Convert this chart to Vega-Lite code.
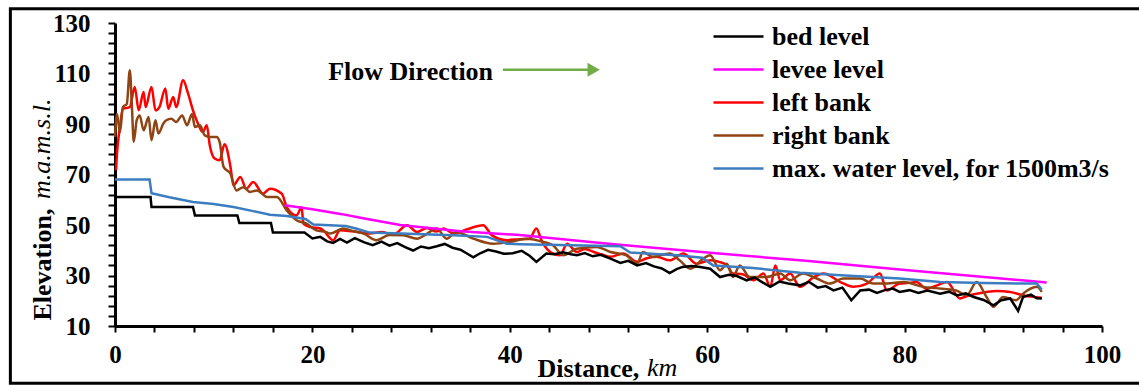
{
  "$schema": "https://vega.github.io/schema/vega-lite/v6.json",
  "width": 987,
  "height": 303,
  "autosize": {"type": "none"},
  "padding": {"left": 115, "top": 23, "right": 37, "bottom": 59},
  "background": "white",
  "config": {
    "view": {"stroke": null},
    "font": "Liberation Serif",
    "axis": {"labelOverlap": false, "labelFlush": false, "labelBound": false, "grid": false}
  },
  "datasets": {
    "profile": [
      {"s":"bed level","x":0,"y":61.1},{"s":"bed level","x":3.6,"y":61.1},{"s":"bed level","x":3.7,"y":57.1},{"s":"bed level","x":7.9,"y":57.1},{"s":"bed level","x":8.1,"y":53.8},{"s":"bed level","x":12.4,"y":53.8},{"s":"bed level","x":12.6,"y":50.8},{"s":"bed level","x":15.8,"y":50.8},{"s":"bed level","x":16,"y":47},{"s":"bed level","x":19.2,"y":47},{"s":"bed level","x":20,"y":44.7},{"s":"bed level","x":20.8,"y":45.3},{"s":"bed level","x":21.5,"y":43.5},{"s":"bed level","x":22.1,"y":42.9},{"s":"bed level","x":22.8,"y":44.5},{"s":"bed level","x":23.5,"y":43},{"s":"bed level","x":24.3,"y":44.8},{"s":"bed level","x":25.2,"y":43.2},{"s":"bed level","x":26.1,"y":42},{"s":"bed level","x":27,"y":43.4},{"s":"bed level","x":27.8,"y":41.8},{"s":"bed level","x":28.6,"y":42.8},{"s":"bed level","x":29.4,"y":41.2},{"s":"bed level","x":30.2,"y":39.9},{"s":"bed level","x":31,"y":41.5},{"s":"bed level","x":31.8,"y":40.8},{"s":"bed level","x":32.6,"y":41.6},{"s":"bed level","x":33.4,"y":42.5},{"s":"bed level","x":34.2,"y":41},{"s":"bed level","x":35,"y":40.2},{"s":"bed level","x":35.7,"y":38.6},{"s":"bed level","x":36.3,"y":37.2},{"s":"bed level","x":37,"y":38.8},{"s":"bed level","x":37.8,"y":40.2},{"s":"bed level","x":38.6,"y":39.5},{"s":"bed level","x":39.4,"y":38.6},{"s":"bed level","x":40.3,"y":38.8},{"s":"bed level","x":41.2,"y":39.8},{"s":"bed level","x":42,"y":37.8},{"s":"bed level","x":42.7,"y":35.4},{"s":"bed level","x":43.7,"y":38.7},{"s":"bed level","x":44.5,"y":38.4},{"s":"bed level","x":45.4,"y":39.2},{"s":"bed level","x":46.2,"y":38.4},{"s":"bed level","x":46.8,"y":38},{"s":"bed level","x":47.6,"y":38.9},{"s":"bed level","x":48.4,"y":37.6},{"s":"bed level","x":49.2,"y":38.2},{"s":"bed level","x":50.2,"y":36.7},{"s":"bed level","x":51.2,"y":35},{"s":"bed level","x":52,"y":35.8},{"s":"bed level","x":52.9,"y":34},{"s":"bed level","x":53.8,"y":34.9},{"s":"bed level","x":54.6,"y":33.6},{"s":"bed level","x":55.4,"y":32.8},{"s":"bed level","x":56.2,"y":31},{"s":"bed level","x":56.9,"y":32.5},{"s":"bed level","x":57.5,"y":33.4},{"s":"bed level","x":58.4,"y":33.8},{"s":"bed level","x":59.3,"y":33.4},{"s":"bed level","x":60.3,"y":32.7},{"s":"bed level","x":61.3,"y":29.4},{"s":"bed level","x":62.2,"y":30.3},{"s":"bed level","x":63,"y":29.8},{"s":"bed level","x":64,"y":28.1},{"s":"bed level","x":64.8,"y":29.2},{"s":"bed level","x":65.6,"y":27.3},{"s":"bed level","x":66.4,"y":25.5},{"s":"bed level","x":67.3,"y":27.6},{"s":"bed level","x":68.2,"y":26.8},{"s":"bed level","x":69.4,"y":26.1},{"s":"bed level","x":70.3,"y":27.5},{"s":"bed level","x":71.2,"y":25.2},{"s":"bed level","x":72,"y":25.8},{"s":"bed level","x":72.8,"y":24.1},{"s":"bed level","x":73.7,"y":25.2},{"s":"bed level","x":74.6,"y":20.2},{"s":"bed level","x":75.5,"y":24.1},{"s":"bed level","x":76.4,"y":24.4},{"s":"bed level","x":77.2,"y":23.1},{"s":"bed level","x":78,"y":24.2},{"s":"bed level","x":78.8,"y":24.8},{"s":"bed level","x":79.5,"y":23.5},{"s":"bed level","x":80.5,"y":24.2},{"s":"bed level","x":81.4,"y":23.1},{"s":"bed level","x":82.3,"y":24},{"s":"bed level","x":83.6,"y":22.8},{"s":"bed level","x":84.5,"y":23.6},{"s":"bed level","x":85.3,"y":22.1},{"s":"bed level","x":86.2,"y":22.9},{"s":"bed level","x":87,"y":21.5},{"s":"bed level","x":88,"y":20.3},{"s":"bed level","x":89,"y":18.2},{"s":"bed level","x":89.8,"y":20.2},{"s":"bed level","x":90.7,"y":20.9},{"s":"bed level","x":91.5,"y":16},{"s":"bed level","x":92,"y":21.5},{"s":"bed level","x":92.8,"y":22.4},{"s":"bed level","x":93.4,"y":21},{"s":"bed level","x":93.9,"y":20.9},
      {"s":"levee level","x":17.2,"y":57.8},{"s":"levee level","x":20,"y":56.2},{"s":"levee level","x":23,"y":54.3},{"s":"levee level","x":25,"y":52.8},{"s":"levee level","x":28.9,"y":50},{"s":"levee level","x":35,"y":47.5},{"s":"levee level","x":41,"y":46},{"s":"levee level","x":50,"y":42.6},{"s":"levee level","x":60.3,"y":39},{"s":"levee level","x":70,"y":35.8},{"s":"levee level","x":79.5,"y":32.4},{"s":"levee level","x":94.4,"y":27.2},
      {"s":"left bank","x":0.1,"y":71.7},{"s":"left bank","x":0.2,"y":78.3},{"s":"left bank","x":0.5,"y":88.8},{"s":"left bank","x":0.8,"y":96},{"s":"left bank","x":1.5,"y":96.7},{"s":"left bank","x":2,"y":104.7},{"s":"left bank","x":2.4,"y":95.4},{"s":"left bank","x":2.9,"y":102.7},{"s":"left bank","x":3.1,"y":96.7},{"s":"left bank","x":3.7,"y":104.7},{"s":"left bank","x":4.1,"y":95.4},{"s":"left bank","x":4.5,"y":96.7},{"s":"left bank","x":5.1,"y":104.1},{"s":"left bank","x":5.4,"y":96},{"s":"left bank","x":5.9,"y":100.7},{"s":"left bank","x":6.2,"y":96.7},{"s":"left bank","x":6.9,"y":107.3},{"s":"left bank","x":7.4,"y":102.1},{"s":"left bank","x":7.9,"y":95.4},{"s":"left bank","x":8.4,"y":90.2},{"s":"left bank","x":8.9,"y":86.8},{"s":"left bank","x":9.3,"y":89.5},{"s":"left bank","x":9.6,"y":81.6},{"s":"left bank","x":10.1,"y":76.3},{"s":"left bank","x":10.6,"y":75.6},{"s":"left bank","x":11.1,"y":82},{"s":"left bank","x":11.7,"y":73},{"s":"left bank","x":12,"y":65.7},{"s":"left bank","x":12.7,"y":69},{"s":"left bank","x":13.3,"y":64.4},{"s":"left bank","x":14,"y":67},{"s":"left bank","x":15,"y":62.4},{"s":"left bank","x":15.7,"y":64.4},{"s":"left bank","x":16.9,"y":62.4},{"s":"left bank","x":17.4,"y":57.1},{"s":"left bank","x":18.4,"y":53.8},{"s":"left bank","x":18.9,"y":57},{"s":"left bank","x":19.1,"y":50.5},{"s":"left bank","x":19.8,"y":49.2},{"s":"left bank","x":20.8,"y":48.6},{"s":"left bank","x":21.1,"y":47.9},{"s":"left bank","x":22.1,"y":44},{"s":"left bank","x":22.8,"y":47.9},{"s":"left bank","x":24,"y":47.5},{"s":"left bank","x":25.8,"y":46.6},{"s":"left bank","x":27,"y":47.2},{"s":"left bank","x":28.2,"y":46.2},{"s":"left bank","x":29.6,"y":49.9},{"s":"left bank","x":30.6,"y":47.2},{"s":"left bank","x":31.6,"y":48.8},{"s":"left bank","x":32.5,"y":47.4},{"s":"left bank","x":33.3,"y":48.6},{"s":"left bank","x":34.3,"y":46.6},{"s":"left bank","x":35.6,"y":48.2},{"s":"left bank","x":37.3,"y":49.9},{"s":"left bank","x":38.2,"y":45.9},{"s":"left bank","x":39.7,"y":44},{"s":"left bank","x":41,"y":44.4},{"s":"left bank","x":42,"y":44.6},{"s":"left bank","x":42.7,"y":48.6},{"s":"left bank","x":43.2,"y":44},{"s":"left bank","x":44.1,"y":39.3},{"s":"left bank","x":45.1,"y":38},{"s":"left bank","x":45.8,"y":42.6},{"s":"left bank","x":46.8,"y":39.3},{"s":"left bank","x":47.6,"y":40.5},{"s":"left bank","x":48.5,"y":39.3},{"s":"left bank","x":49.3,"y":38.4},{"s":"left bank","x":50.2,"y":37.4},{"s":"left bank","x":51.5,"y":38.7},{"s":"left bank","x":52.9,"y":35.4},{"s":"left bank","x":53.9,"y":36.8},{"s":"left bank","x":54.9,"y":37.4},{"s":"left bank","x":56.2,"y":36},{"s":"left bank","x":57.6,"y":38.7},{"s":"left bank","x":58.9,"y":34.7},{"s":"left bank","x":60.3,"y":36},{"s":"left bank","x":61.2,"y":35.4},{"s":"left bank","x":62,"y":34},{"s":"left bank","x":62.6,"y":30.8},{"s":"left bank","x":63.6,"y":30.5},{"s":"left bank","x":64.7,"y":28.1},{"s":"left bank","x":65.7,"y":30.8},{"s":"left bank","x":66.4,"y":25.5},{"s":"left bank","x":66.9,"y":34},{"s":"left bank","x":67.4,"y":28.1},{"s":"left bank","x":68.4,"y":30.8},{"s":"left bank","x":69.4,"y":25.5},{"s":"left bank","x":70.8,"y":29.4},{"s":"left bank","x":71.8,"y":30.8},{"s":"left bank","x":73.5,"y":27.4},{"s":"left bank","x":74.8,"y":25.5},{"s":"left bank","x":76.2,"y":26.8},{"s":"left bank","x":77.5,"y":30.8},{"s":"left bank","x":78.2,"y":24.1},{"s":"left bank","x":79.5,"y":26.8},{"s":"left bank","x":80.3,"y":27},{"s":"left bank","x":81.2,"y":27.4},{"s":"left bank","x":82.2,"y":24.8},{"s":"left bank","x":83.2,"y":26},{"s":"left bank","x":84.3,"y":27.4},{"s":"left bank","x":85.6,"y":20.9},{"s":"left bank","x":86.4,"y":22},{"s":"left bank","x":87.3,"y":22.8},{"s":"left bank","x":88.3,"y":23.5},{"s":"left bank","x":89.3,"y":23.9},{"s":"left bank","x":90.7,"y":23.5},{"s":"left bank","x":92,"y":22.2},{"s":"left bank","x":93.9,"y":21.2},
      {"s":"right bank","x":0,"y":84.9},{"s":"right bank","x":0.2,"y":94},{"s":"right bank","x":0.5,"y":86.8},{"s":"right bank","x":0.8,"y":96.7},{"s":"right bank","x":1.2,"y":98},{"s":"right bank","x":1.5,"y":111.3},{"s":"right bank","x":1.7,"y":98},{"s":"right bank","x":1.9,"y":83},{"s":"right bank","x":2.2,"y":91.5},{"s":"right bank","x":2.5,"y":93.4},{"s":"right bank","x":2.9,"y":87.5},{"s":"right bank","x":3.4,"y":92.8},{"s":"right bank","x":3.7,"y":83.6},{"s":"right bank","x":4.1,"y":91.5},{"s":"right bank","x":4.4,"y":86.2},{"s":"right bank","x":4.9,"y":90.2},{"s":"right bank","x":5.2,"y":91.5},{"s":"right bank","x":5.7,"y":92.1},{"s":"right bank","x":6.2,"y":90.8},{"s":"right bank","x":6.8,"y":93.4},{"s":"right bank","x":7.3,"y":89.5},{"s":"right bank","x":7.8,"y":94},{"s":"right bank","x":8.1,"y":88.8},{"s":"right bank","x":8.6,"y":89.5},{"s":"right bank","x":9.1,"y":85.5},{"s":"right bank","x":9.6,"y":84.9},{"s":"right bank","x":10.3,"y":84.9},{"s":"right bank","x":10.6,"y":82.9},{"s":"right bank","x":11,"y":73},{"s":"right bank","x":11.7,"y":70.3},{"s":"right bank","x":12.3,"y":63.7},{"s":"right bank","x":13,"y":65},{"s":"right bank","x":13.7,"y":63.1},{"s":"right bank","x":14.4,"y":63.7},{"s":"right bank","x":15.4,"y":61.1},{"s":"right bank","x":16.4,"y":61.1},{"s":"right bank","x":17.4,"y":55.8},{"s":"right bank","x":18.4,"y":51.9},{"s":"right bank","x":19.4,"y":50.5},{"s":"right bank","x":20.4,"y":47.9},{"s":"right bank","x":21.4,"y":47.2},{"s":"right bank","x":21.8,"y":46.6},{"s":"right bank","x":23.1,"y":48.6},{"s":"right bank","x":24.2,"y":47.5},{"s":"right bank","x":25.2,"y":46.6},{"s":"right bank","x":26.5,"y":44},{"s":"right bank","x":27.8,"y":46},{"s":"right bank","x":29.2,"y":45.9},{"s":"right bank","x":30.6,"y":44.6},{"s":"right bank","x":31.6,"y":46.5},{"s":"right bank","x":32.6,"y":48.6},{"s":"right bank","x":33.6,"y":44.6},{"s":"right bank","x":34.6,"y":47.2},{"s":"right bank","x":36.3,"y":44.6},{"s":"right bank","x":38.3,"y":42.6},{"s":"right bank","x":40,"y":43.3},{"s":"right bank","x":41.7,"y":44.6},{"s":"right bank","x":43.4,"y":43.3},{"s":"right bank","x":44.4,"y":41.9},{"s":"right bank","x":45.4,"y":38},{"s":"right bank","x":46.8,"y":40.6},{"s":"right bank","x":48.8,"y":41.3},{"s":"right bank","x":50.2,"y":39.3},{"s":"right bank","x":51.8,"y":38},{"s":"right bank","x":52.9,"y":34.7},{"s":"right bank","x":53.5,"y":39.3},{"s":"right bank","x":54.5,"y":37.4},{"s":"right bank","x":56.2,"y":38.7},{"s":"right bank","x":57.2,"y":36},{"s":"right bank","x":58.3,"y":32.7},{"s":"right bank","x":59.6,"y":36.7},{"s":"right bank","x":60.3,"y":38},{"s":"right bank","x":61.3,"y":32.1},{"s":"right bank","x":62,"y":34.7},{"s":"right bank","x":62.6,"y":29.4},{"s":"right bank","x":63.3,"y":34},{"s":"right bank","x":64.3,"y":29.4},{"s":"right bank","x":66,"y":29.4},{"s":"right bank","x":67.4,"y":30.8},{"s":"right bank","x":68.4,"y":28.1},{"s":"right bank","x":69.7,"y":30.8},{"s":"right bank","x":71.1,"y":28.8},{"s":"right bank","x":72.4,"y":26.8},{"s":"right bank","x":73.8,"y":28.8},{"s":"right bank","x":75.5,"y":28.8},{"s":"right bank","x":76.8,"y":26.8},{"s":"right bank","x":78.2,"y":26.8},{"s":"right bank","x":79.9,"y":27.4},{"s":"right bank","x":81.9,"y":25.5},{"s":"right bank","x":83.2,"y":25},{"s":"right bank","x":85.2,"y":24.1},{"s":"right bank","x":86.3,"y":22.2},{"s":"right bank","x":87.3,"y":27.4},{"s":"right bank","x":88.3,"y":21.5},{"s":"right bank","x":89,"y":17.6},{"s":"right bank","x":90,"y":21.5},{"s":"right bank","x":91.3,"y":20.2},{"s":"right bank","x":92,"y":22.8},{"s":"right bank","x":93.4,"y":25.5},{"s":"right bank","x":93.9,"y":23.5},
      {"s":"max. water level, for 1500m3/s","x":0,"y":68},{"s":"max. water level, for 1500m3/s","x":3.5,"y":68},{"s":"max. water level, for 1500m3/s","x":3.7,"y":62.6},{"s":"max. water level, for 1500m3/s","x":5.5,"y":61},{"s":"max. water level, for 1500m3/s","x":7.9,"y":59.1},{"s":"max. water level, for 1500m3/s","x":10,"y":58.3},{"s":"max. water level, for 1500m3/s","x":12,"y":57.1},{"s":"max. water level, for 1500m3/s","x":14,"y":55.5},{"s":"max. water level, for 1500m3/s","x":15.7,"y":54.1},{"s":"max. water level, for 1500m3/s","x":17.4,"y":53.6},{"s":"max. water level, for 1500m3/s","x":19.3,"y":52.4},{"s":"max. water level, for 1500m3/s","x":20.1,"y":50.2},{"s":"max. water level, for 1500m3/s","x":23.4,"y":49.6},{"s":"max. water level, for 1500m3/s","x":24.5,"y":48.5},{"s":"max. water level, for 1500m3/s","x":25.8,"y":47},{"s":"max. water level, for 1500m3/s","x":29,"y":46.6},{"s":"max. water level, for 1500m3/s","x":34.3,"y":45.9},{"s":"max. water level, for 1500m3/s","x":37.7,"y":45.3},{"s":"max. water level, for 1500m3/s","x":39.7,"y":42.6},{"s":"max. water level, for 1500m3/s","x":41,"y":42.4},{"s":"max. water level, for 1500m3/s","x":45,"y":42.1},{"s":"max. water level, for 1500m3/s","x":51.2,"y":41.6},{"s":"max. water level, for 1500m3/s","x":52.2,"y":39.1},{"s":"max. water level, for 1500m3/s","x":56.9,"y":38},{"s":"max. water level, for 1500m3/s","x":59.5,"y":37},{"s":"max. water level, for 1500m3/s","x":60.6,"y":34},{"s":"max. water level, for 1500m3/s","x":64.3,"y":33.1},{"s":"max. water level, for 1500m3/s","x":69.4,"y":31.1},{"s":"max. water level, for 1500m3/s","x":74,"y":30},{"s":"max. water level, for 1500m3/s","x":79.5,"y":28.8},{"s":"max. water level, for 1500m3/s","x":83.6,"y":27.4},{"s":"max. water level, for 1500m3/s","x":88,"y":27},{"s":"max. water level, for 1500m3/s","x":93.4,"y":26.8},{"s":"max. water level, for 1500m3/s","x":93.9,"y":24.4}
    ]
  },
  "layer": [
    {
      "data": {"name": "profile"},
      "encoding": {
        "x": {"field": "x", "type": "quantitative", "scale": {"domain": [0, 100], "nice": false, "zero": false},
          "axis": {"title": "Distance,", "titleFont": "Liberation Serif", "titleFontWeight": "bold", "titleFontSize": 26, "titleColor": "black", "titleAlign": "left", "titleBaseline": "alphabetic", "titleX": 422, "titleY": 50,
            "values": [0,4,8,12,16,20,24,28,32,36,40,44,48,52,56,60,64,68,72,76,80,84,88,92,96,100],
            "labelExpr": "datum.value % 20 === 0 ? datum.label : ''",
            "grid": false, "domainColor": "black", "domainWidth": 3, "tickColor": "black", "tickWidth": 2, "tickSize": 6,
            "labelFont": "Liberation Serif", "labelFontWeight": "bold", "labelFontSize": 25, "labelColor": "black", "labelPadding": 10, "labelFlush": false, "labelOverlap": false, "labelBound": false}},
        "y": {"field": "y", "type": "quantitative", "scale": {"domain": [10, 130], "nice": false, "zero": false},
          "axis": {"title": "Elevation,", "titleFont": "Liberation Serif", "titleFontWeight": "bold", "titleFontSize": 26, "titleColor": "black", "titleAngle": 270, "titleAlign": "left", "titleBaseline": "middle", "titleX": -73, "titleY": 297,
            "values": [10,14,18,22,26,30,34,38,42,46,50,54,58,62,66,70,74,78,82,86,90,94,98,102,106,110,114,118,122,126,130],
            "labelExpr": "(datum.value - 10) % 20 === 0 ? datum.label : ''",
            "grid": false, "domainColor": "black", "domainWidth": 3, "tickColor": "black", "tickWidth": 2, "tickSize": 7,
            "labelFont": "Liberation Serif", "labelFontWeight": "bold", "labelFontSize": 25, "labelColor": "black", "labelPadding": 18, "labelOverlap": false, "labelBound": false, "labelFlush": false}},
        "color": {"field": "s", "type": "nominal",
          "scale": {"domain": ["bed level", "levee level", "left bank", "right bank", "max. water level, for 1500m3/s"], "range": ["#000000", "#FF00FF", "#FF0000", "#8E4513", "#3B7DC0"]},
          "legend": {"title": null, "orient": "none", "legendX": 597, "legendY": -3, "symbolType": "stroke", "symbolSize": 2500, "symbolStrokeWidth": 2.5, "clipHeight": 33,
            "labelFont": "Liberation Serif", "labelFontWeight": "bold", "labelFontSize": 26, "labelColor": "black", "labelOffset": 7, "rowPadding": 0, "labelLimit": 500,
            "labelExpr": "(datum.label === 'left bank' || datum.label === 'right bank') ? '\u00a0' + datum.label : datum.label"}}
      },
      "layer": [
        {
          "transform": [{"filter": "datum.s === 'left bank' || datum.s === 'right bank'"}],
          "mark": {"type": "line", "interpolate": "monotone", "strokeWidth": 2.5}
        },
        {
          "transform": [{"filter": "datum.s !== 'left bank' && datum.s !== 'right bank'"}],
          "mark": {"type": "line", "strokeWidth": 2.5}
        }
      ]
    },
    {
      "data": {"values": [{"note": "annotation"}]},
      "encoding": {
        "x": {"datum": 0, "type": "quantitative",
          "axis": {"title": "Distance,", "titleFont": "Liberation Serif", "titleFontWeight": "bold", "titleFontSize": 26, "titleColor": "black", "titleAlign": "left", "titleBaseline": "alphabetic", "titleX": 422, "titleY": 50,
            "values": [0,4,8,12,16,20,24,28,32,36,40,44,48,52,56,60,64,68,72,76,80,84,88,92,96,100],
            "labelExpr": "datum.value % 20 === 0 ? datum.label : ''",
            "grid": false, "domainColor": "black", "domainWidth": 3, "tickColor": "black", "tickWidth": 2, "tickSize": 6,
            "labelFont": "Liberation Serif", "labelFontWeight": "bold", "labelFontSize": 25, "labelColor": "black", "labelPadding": 10, "labelFlush": false, "labelOverlap": false, "labelBound": false}},
        "y": {"datum": 10, "type": "quantitative",
          "axis": {"title": "Elevation,", "titleFont": "Liberation Serif", "titleFontWeight": "bold", "titleFontSize": 26, "titleColor": "black", "titleAngle": 270, "titleAlign": "left", "titleBaseline": "middle", "titleX": -73, "titleY": 297,
            "values": [10,14,18,22,26,30,34,38,42,46,50,54,58,62,66,70,74,78,82,86,90,94,98,102,106,110,114,118,122,126,130],
            "labelExpr": "(datum.value - 10) % 20 === 0 ? datum.label : ''",
            "grid": false, "domainColor": "black", "domainWidth": 3, "tickColor": "black", "tickWidth": 2, "tickSize": 7,
            "labelFont": "Liberation Serif", "labelFontWeight": "bold", "labelFontSize": 25, "labelColor": "black", "labelPadding": 18, "labelOverlap": false, "labelBound": false, "labelFlush": false}}
      },
      "layer": [
        {
          "mark": {"type": "text", "font": "Liberation Serif", "fontWeight": "bold", "fontSize": 26, "align": "left", "baseline": "alphabetic", "color": "black", "text": "Flow Direction"},
          "encoding": {"x": {"datum": 21.6}, "y": {"datum": 107.6}}
        },
        {
          "mark": {"type": "rule", "strokeWidth": 2.5, "color": "#70AD47"},
          "encoding": {"x": {"datum": 39.3}, "x2": {"datum": 48.0}, "y": {"datum": 111.5}}
        },
        {
          "mark": {"type": "point", "shape": "triangle-right", "filled": true, "size": 200, "opacity": 1, "color": "#70AD47"},
          "encoding": {"x": {"datum": 48.5}, "y": {"datum": 111.5}}
        },
        {
          "mark": {"type": "text", "font": "Liberation Serif", "fontStyle": "italic", "fontSize": 26, "angle": 270, "align": "left", "baseline": "middle", "color": "black", "text": "m.a.m.s.l."},
          "encoding": {"x": {"datum": -7.4}, "y": {"datum": 60.3}}
        },
        {
          "mark": {"type": "text", "font": "Liberation Serif", "fontStyle": "italic", "fontSize": 26, "align": "left", "baseline": "alphabetic", "color": "black", "text": "km"},
          "encoding": {"x": {"datum": 53.9}, "y": {"datum": -9.9}}
        },
        {
          "mark": {"type": "rect", "fill": null, "filled": false, "strokeWidth": 3, "color": "black"},
          "encoding": {"x": {"datum": -10.6}, "x2": {"datum": 104.0}, "y": {"datum": 135.6}, "y2": {"datum": -12.7}}
        }
      ]
    }
  ]
}
